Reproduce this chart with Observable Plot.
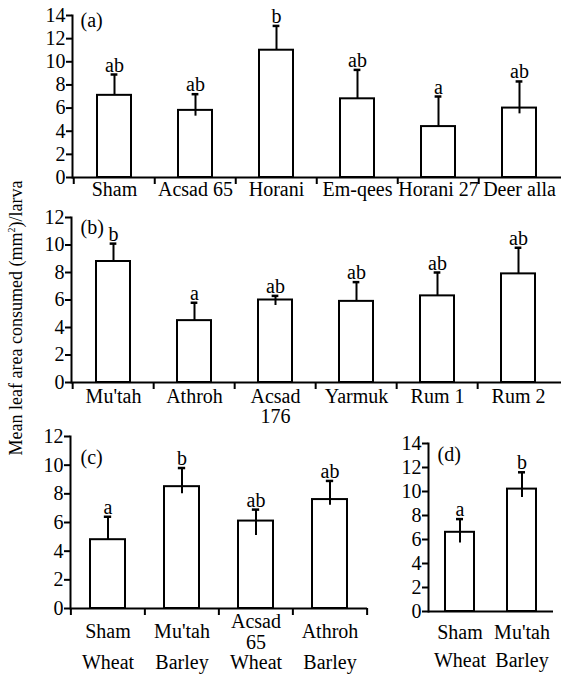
<!DOCTYPE html>
<html>
<head>
<meta charset="utf-8">
<script src="https://cdn.jsdelivr.net/npm/d3@7"></script>
<script src="https://cdn.jsdelivr.net/npm/@observablehq/plot@0.6"></script>
<style>
  html, body { margin: 0; padding: 0; background: white; }
  #chart { position: relative; width: 561px; height: 674px; background: white; font-family: "Liberation Serif", "Times New Roman", serif; }
  .panel { position: absolute; z-index: 1; }
  #ylabel { position: absolute; z-index: 5; left: 16px; top: 318px; transform: translate(-50%, -50%) rotate(-90deg); white-space: nowrap; font-size: 18px; color: black; line-height: 1; }
</style>
</head>
<body>
<div id="chart">
  <div id="ylabel">Mean leaf area consumed (mm<sup style="font-size:10px">2</sup>)/larva</div>
</div>
<script>
// Panel (a)
const catsA = ["Sham", "Acsad 65", "Horani", "Em-qees", "Horani 27", "Deer alla"];
const meanA = [7.1, 5.8, 11.0, 6.8, 4.4, 6.0];
const upA   = [8.9, 7.2, 13.1, 9.3, 7.0, 8.3];
const loA   = [7.1, 5.3, 11.0, 6.8, 4.4, 5.5];
const sigA  = ["ab", "ab", "b", "ab", "a", "ab"];

// Panel (b)
const catsB = ["Mu'tah", "Athroh", "Acsad\n176", "Yarmuk", "Rum 1", "Rum 2"];
const meanB = [8.8, 4.5, 6.0, 5.9, 6.3, 7.9];
const upB   = [10.1, 5.8, 6.3, 7.3, 8.0, 9.8];
const loB   = [8.8, 4.5, 5.6, 5.9, 6.3, 7.9];
const sigB  = ["b", "a", "ab", "ab", "ab", "ab"];

// Panel (c)
const catsC = ["Sham", "Mu'tah", "Acsad\n65", "Athroh"];
const cropC = ["Wheat", "Barley", "Wheat", "Barley"];
const meanC = [4.8, 8.5, 6.1, 7.6];
const upC   = [6.4, 9.8, 6.9, 8.9];
const loC   = [4.8, 8.0, 5.1, 7.2];
const sigC  = ["a", "b", "ab", "ab"];

// Panel (d)
const catsD = ["Sham", "Mu'tah"];
const cropD = ["Wheat", "Barley"];
const meanD = [6.6, 10.2];
const upD   = [7.7, 11.6];
const loD   = [5.7, 9.5];
const sigD  = ["a", "b"];

const FONT = '"Liberation Serif", "Times New Roman", serif';
const FS = 20;

function panel(cfg) {
  const rows = cfg.cats.map((c, i) => ({
    c, m: cfg.means[i], hi: cfg.ups[i], lo: cfg.los[i], s: cfg.sigs[i],
    crop: cfg.crops ? cfg.crops[i] : null
  }));
  const n = cfg.cats.length;
  const step = (cfg.width - cfg.mL - cfg.mR) / n;
  const bw = step * (1 - cfg.padIn);
  const capInset = (bw - 7) / 2;
  const marks = [
    Plot.barY(rows, {x: "c", y: "m", fill: "white", stroke: "black", strokeWidth: 2}),
    Plot.ruleX(rows, {x: "c", y1: "lo", y2: "hi", stroke: "black", strokeWidth: 2}),
    Plot.tickY(rows, {x: "c", y: "hi", stroke: "black", strokeWidth: 2.5, insetLeft: capInset, insetRight: capInset}),
    Plot.text(rows, {x: "c", y: "hi", text: "s", dy: -3, lineAnchor: "bottom", fontSize: FS, fill: "black"}),
    Plot.ruleY([0], {stroke: "black", strokeWidth: 2}),
    Plot.frame({anchor: "left", stroke: "black", strokeWidth: 2}),
    Plot.axisY({ticks: d3.range(0, cfg.yMax + 1, 2), tickSize: 6, tickPadding: 1, strokeWidth: 2, fontSize: FS, label: null, tickFormat: d => d}),
    Plot.text(rows, {x: "c", y: 0, text: "c", dy: cfg.labelDy, lineAnchor: cfg.labelAnchor, lineHeight: cfg.lineHeight, fontSize: FS, fill: "black"}),
    Plot.text([cfg.tag], {frameAnchor: "top-left", text: d => d, dx: cfg.tagDx, dy: cfg.tagDy, textAnchor: "start", lineAnchor: "middle", fontSize: FS, fill: "black"})
  ];
  if (cfg.crops) {
    marks.push(Plot.text(rows, {x: "c", y: 0, text: "crop", dy: cfg.labelDy2, lineAnchor: "middle", fontSize: FS, fill: "black"}));
  }
  if (cfg.boundaryTicks) {
    marks.push(Plot.axisX({ticks: cfg.cats, tickSize: 7, strokeWidth: 2, tickFormat: () => "", dx: -step / 2, label: null}));
    if (cfg.endTick) {
      marks.push(Plot.axisX({ticks: [cfg.cats[n - 1]], tickSize: 7, strokeWidth: 2, tickFormat: () => "", dx: step / 2, label: null}));
    }
  } else {
    marks.push(Plot.axisX({ticks: [], label: null}));
  }
  const svg = Plot.plot({
    width: cfg.width, height: cfg.height,
    marginLeft: cfg.mL, marginRight: cfg.mR, marginTop: cfg.mT, marginBottom: cfg.mB,
    x: {type: "band", domain: cfg.cats, paddingInner: cfg.padIn, paddingOuter: cfg.padIn / 2, axis: null},
    y: {domain: [0, cfg.yMax], axis: null},
    style: {fontFamily: FONT, fontSize: FS + "px", background: "transparent", color: "black", overflow: "visible"},
    marks
  });
  const div = document.createElement("div");
  div.className = "panel";
  div.style.left = cfg.left + "px";
  div.style.top = cfg.top + "px";
  div.appendChild(svg);
  document.getElementById("chart").appendChild(div);
}

panel({cats: catsA, means: meanA, ups: upA, los: loA, sigs: sigA,
  left: 0, top: 0, width: 561, height: 200, mL: 72, mR: 0, mT: 15, mB: 23, yMax: 14,
  padIn: 0.58, labelDy: 4, labelAnchor: "top", lineHeight: 1,
  tag: "(a)", tagDx: 8, tagDy: 5, boundaryTicks: true, endTick: false});

panel({cats: catsB, means: meanB, ups: upB, los: loB, sigs: sigB,
  left: 0, top: 200, width: 561, height: 228, mL: 71, mR: 0, mT: 17, mB: 46, yMax: 12,
  padIn: 0.58, labelDy: 6, labelAnchor: "top", lineHeight: 1,
  tag: "(b)", tagDx: 9, tagDy: 10, boundaryTicks: true, endTick: false});

panel({cats: catsC, means: meanC, ups: upC, los: loC, sigs: sigC, crops: cropC,
  left: 0, top: 428, width: 380, height: 246, mL: 70, mR: 13, mT: 8, mB: 66, yMax: 12,
  padIn: 0.533, labelDy: 23, labelAnchor: "middle", lineHeight: 1.05, labelDy2: 54,
  tag: "(c)", tagDx: 10, tagDy: 21, boundaryTicks: true, endTick: true});

panel({cats: catsD, means: meanD, ups: upD, los: loD, sigs: sigD, crops: cropD,
  left: 380, top: 428, width: 181, height: 246, mL: 48, mR: 8, mT: 15, mB: 63, yMax: 14,
  padIn: 0.536, labelDy: 21, labelAnchor: "middle", lineHeight: 1.05, labelDy2: 49,
  tag: "(d)", tagDx: 9, tagDy: 11, boundaryTicks: false, endTick: false});
</script>
</body>
</html>
